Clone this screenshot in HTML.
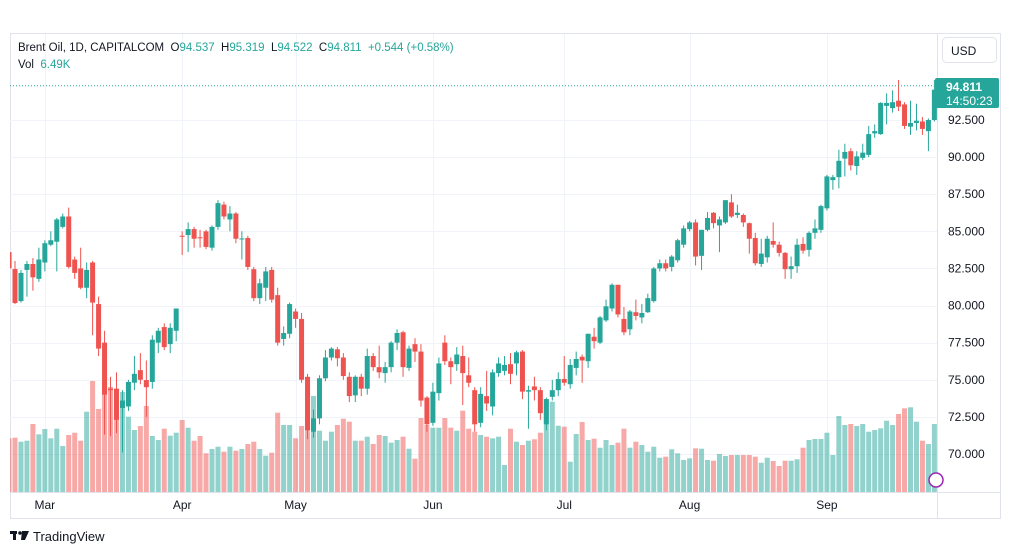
<!DOCTYPE html>
<html><head><meta charset="utf-8"><style>
body{margin:0;background:#fff;width:1012px;height:555px;overflow:hidden;font-family:"Liberation Sans",sans-serif}
svg{position:absolute;left:0;top:0}
</style></head><body>
<svg id="c" width="1012" height="555"></svg>
<script>
const opens=[83.6,82.46,80.3,82.4,82.8,81.8,82.9,84.1,84.3,85.3,86.0,83.1,82.5,81.2,82.9,80.1,77.5,74.4,74.4,73.1,73.2,74.8,75.65,74.98,74.85,77.5,78.55,77.4,78.3,84.7,84.75,85.15,84.6,85.0,83.9,85.3,86.8,85.8,86.2,84.5,84.55,82.45,80.5,81.2,82.4,80.7,77.75,78.1,79.6,79.1,75.2,71.5,72.4,75.1,76.5,77.05,76.5,75.2,73.95,75.2,74.4,76.6,75.85,75.45,75.85,77.5,78.2,75.8,77.4,76.9,73.8,72.1,74.1,77.5,76.25,76.05,76.6,75.3,74.3,72.1,73.9,73.2,75.45,75.6,76.05,76.1,76.9,74.2,74.55,74.3,72.0,73.85,74.3,75.05,74.7,75.8,76.55,76.25,77.9,77.5,79.0,79.8,81.4,79.1,78.4,79.55,79.2,79.55,80.3,82.5,82.85,82.6,83.05,84.1,85.15,85.6,83.35,85.1,86.25,85.4,85.6,86.95,86.1,86.1,85.55,84.55,82.8,83.25,84.35,84.1,83.55,82.45,82.65,84.15,83.75,84.9,85.1,86.55,88.45,88.65,89.9,90.4,89.4,89.95,90.15,91.6,91.55,93.45,93.3,93.8,93.55,92.05,92.3,92.4,91.75,92.5,94.537];
const closes=[82.5,80.17,82.2,82.8,81.9,83.1,84.2,84.4,85.8,86.0,82.6,82.2,81.2,82.4,80.2,77.1,74.0,74.3,72.3,73.6,74.85,75.4,75.0,74.5,77.7,78.3,77.2,78.5,79.8,84.65,85.15,84.5,84.55,83.95,85.3,86.9,86.0,86.2,84.5,84.52,82.6,80.5,81.5,82.3,80.4,77.5,78.15,80.1,79.1,75.0,71.6,72.4,75.1,76.5,77.1,76.45,75.25,73.9,75.2,74.4,76.6,75.85,75.5,75.85,77.5,78.15,75.85,77.1,76.9,73.6,72.0,74.2,76.1,76.25,75.85,76.7,75.45,74.8,72.0,74.05,73.4,75.5,76.1,76.0,75.4,76.85,74.2,74.3,74.3,72.75,73.7,74.3,75.05,74.8,76.0,76.4,76.3,78.1,77.6,79.2,79.95,81.4,79.4,78.2,79.6,79.3,79.5,80.5,82.5,82.85,82.5,83.3,84.4,85.2,85.6,83.3,85.1,85.9,85.55,85.8,87.1,86.0,86.25,85.6,84.5,82.85,83.5,84.5,84.1,83.55,82.45,82.65,84.1,83.7,84.9,85.2,86.7,88.7,88.65,89.75,90.35,89.45,90.05,90.3,91.55,91.75,93.65,93.65,93.7,93.4,92.1,92.3,92.45,91.9,92.5,94.54,94.811];
const highs=[83.7,83.0,82.4,83.0,83.2,83.9,84.4,85.0,85.9,86.2,86.6,83.3,83.9,82.9,83.0,80.6,78.3,75.2,75.5,74.3,75.0,76.6,76.8,76.3,78.0,78.5,78.8,78.8,79.8,85.0,85.6,85.3,85.1,85.1,85.4,87.1,87.0,86.7,86.3,85.0,84.7,82.6,81.8,82.6,82.6,81.2,78.6,80.2,79.8,79.5,75.4,73.0,75.3,77.0,77.2,77.2,76.8,75.5,75.3,75.4,77.1,76.8,77.3,76.2,77.6,78.4,78.3,77.3,77.8,77.4,73.9,74.8,76.5,78.0,76.5,77.2,77.3,76.5,74.5,74.5,75.6,75.7,76.5,76.6,76.8,76.95,77.0,74.6,75.2,74.5,73.8,75.0,75.5,76.6,76.4,76.9,76.7,78.1,78.5,79.3,80.4,81.5,81.4,79.9,79.7,80.4,80.1,80.8,82.6,83.1,83.1,83.4,84.5,85.4,85.7,85.8,85.1,86.3,86.3,86.0,87.1,87.5,86.8,86.2,85.6,84.9,84.5,84.7,85.6,84.3,83.6,83.3,84.5,84.6,85.0,85.8,86.8,88.8,88.8,90.5,90.9,90.6,90.4,90.9,92.1,92.2,93.7,94.3,94.5,95.2,93.7,93.8,93.6,92.7,92.6,95.2,95.319];
const lows=[82.3,80.1,80.2,80.6,81.0,81.6,82.3,84.0,82.3,85.2,82.5,81.8,81.1,80.5,78.0,76.6,71.3,71.2,71.4,70.1,72.9,74.3,74.7,72.5,74.4,76.8,77.0,76.8,77.6,83.4,83.6,83.9,83.9,83.8,83.7,85.1,85.8,85.0,84.2,83.1,82.4,80.3,80.1,80.3,80.2,77.3,77.3,77.8,78.5,74.8,71.0,71.1,72.0,74.9,76.3,75.9,75.0,73.5,73.5,73.9,74.0,75.6,75.1,74.8,75.5,77.0,75.2,75.6,76.2,73.2,71.5,71.9,73.6,76.0,74.7,75.6,73.3,74.5,71.5,71.8,72.9,72.6,75.2,75.3,74.7,75.3,73.7,71.7,73.6,72.3,71.6,73.6,73.9,74.6,74.4,75.3,74.8,75.8,77.1,77.4,78.9,79.6,79.2,78.0,78.0,79.0,78.8,79.5,80.2,82.3,82.3,82.3,82.9,83.9,85.0,82.7,82.4,85.0,85.2,83.6,85.5,85.9,85.9,85.3,83.5,82.7,82.6,82.9,83.9,83.3,81.8,81.8,82.2,83.5,83.3,84.5,84.9,86.4,87.8,87.9,88.7,89.1,88.8,89.8,90.0,91.3,91.5,92.2,93.0,93.1,91.9,91.5,91.8,91.5,90.4,92.4,94.522];
const volumes=[53.7,54.3,50.3,51.3,68,57.7,63,53.7,63.3,46,57,59.3,51.3,80.3,111,83,110.3,105,95,100,75.3,62,66,86,56,52,63.3,56.3,59.3,72,64.3,51.3,56,38.7,43,45.3,40.3,45.3,41.3,43,48,50.3,43,36.3,39.3,79.3,67,67,53.7,66,72.7,96,61.3,51.3,60.3,67,73.3,70.3,51.3,51.3,55.3,48,57,56,49.3,52,55.3,43.3,33.3,74,67,64.3,64.3,74,64.3,61.3,81.3,63.3,60.3,57,55.3,53.7,55.3,27,63.3,50.3,47,51.3,52.7,59.3,92.7,90.3,66.3,65.3,30.3,58,70,52,53.3,44.3,52,47,49.3,63.3,44.3,50.3,47,40.3,45.3,34.3,35.3,42.7,38.7,32,33.7,43.7,43.3,32,31.3,38,36,37,37,37,37,35.3,29.3,34.3,31,26,31.3,31.3,32.7,44.3,52,53,53,59.3,37,76,67,68,66,68,60.3,62,63.7,71.3,67,78,83.7,84.7,70.3,51.3,48,68,62];
const priceTicks=[92.5,90,87.5,85,82.5,80,77.5,75,72.5,70];
const monthLabels=["Mar","Apr","May","Jun","Jul","Aug","Sep"];
const monthIdx=[6,29,48,71,93,114,137];

const svg=document.getElementById('c');const NS='http://www.w3.org/2000/svg';
function mk(t,a,p){const e=document.createElementNS(NS,t);for(const k in a)e.setAttribute(k,a[k]);(p||svg).appendChild(e);return e;}
const L=10,R=937,T=34,B=492;
const yP=v=>120+(92.5-v)*14.844;
const xI=i=>9.03+5.97*i;
const vY=v=>B-v;
const G='#26a69a',Rd='#ef5350';
// frame
let f=mk('rect',{x:10.5,y:33.5,width:990,height:485,fill:'#fff',stroke:'#e0e3eb'});

const grid=mk('g',{stroke:'#f0f3fa','stroke-width':1});

priceTicks.forEach(v=>mk('line',{x1:L,x2:R,y1:Math.round(yP(v))+.5,y2:Math.round(yP(v))+.5},grid));
monthIdx.forEach(i=>mk('line',{x1:Math.round(xI(i))+.5,x2:Math.round(xI(i))+.5,y1:T,y2:B},grid));
mk('line',{x1:937.5,x2:937.5,y1:33,y2:519,stroke:'#e0e3eb'});
mk('line',{x1:10,x2:1001,y1:492.5,y2:492.5,stroke:'#e0e3eb'});
const clip=mk('clipPath',{id:'pc'});mk('rect',{x:L,y:T,width:R-L,height:B-T},clip);
const vg=mk('g',{'clip-path':'url(#pc)'});

const cg=mk('g',{'clip-path':'url(#pc)'});

for(let i=0;i<opens.length;i++){
  const up=closes[i]>=opens[i];const x=xI(i);
  const vb=mk('rect',{x:x-2.5,y:vY(volumes[i]),width:5,height:volumes[i],fill:up?'rgba(38,166,154,0.5)':'rgba(239,83,80,0.5)'},vg);
  
  const c=up?G:Rd;
  const w=mk('line',{x1:x,x2:x,y1:yP(highs[i]),y2:yP(lows[i]),stroke:c,'stroke-width':1},cg);
  
  const t=yP(Math.max(opens[i],closes[i])),b=yP(Math.min(opens[i],closes[i]));
  const r=mk('rect',{x:x-2.5,y:t,width:5,height:Math.max(1,b-t),fill:c},cg);
  
}
const last=closes[closes.length-1];
mk('line',{x1:L,x2:R,y1:yP(last),y2:yP(last),stroke:G,'stroke-width':1,'stroke-dasharray':'1 2'});
// axes labels
priceTicks.forEach(v=>{const t=mk('text',{x:948,y:yP(v)+4,'font-size':12,fill:'#131722'});t.textContent=v.toFixed(3);
});
monthLabels.forEach((m,k)=>{const t=mk('text',{x:xI(monthIdx[k]),y:509,'font-size':12,fill:'#131722','text-anchor':'middle'});t.textContent=m;
});
// last price tag
const tag=mk('rect',{x:935,y:78,width:64,height:30,rx:2,fill:G});

let t1=mk('text',{x:946,y:91,'font-size':12,fill:'#fff','font-weight':'bold'});t1.textContent=last.toFixed(3);
let t2=mk('text',{x:946,y:105,'font-size':12,fill:'#fff'});t2.textContent='14:50:23';
// USD button
const ub=mk('rect',{x:942.5,y:37.5,width:54,height:25,rx:4,fill:'#fff',stroke:'#e0e3eb'});

let ut=mk('text',{x:951,y:55,'font-size':12,fill:'#131722'});ut.textContent='USD';
// purple marker
mk('circle',{cx:936,cy:480,r:7,fill:'#fff',stroke:'#9c27b0','stroke-width':1.5});
// header
const h=mk('text',{x:18,y:51,'font-size':11.5,fill:'#131722'});

h.innerHTML='Brent Oil, 1D, CAPITALCOM  <tspan fill="#131722">O</tspan><tspan fill="#26a69a">94.537</tspan>  <tspan>H</tspan><tspan fill="#26a69a">95.319</tspan>  <tspan>L</tspan><tspan fill="#26a69a">94.522</tspan>  <tspan>C</tspan><tspan fill="#26a69a">94.811</tspan>  <tspan fill="#26a69a">+0.544 (+0.58%)</tspan>';
h.setAttribute('xml:space','preserve');h.style.whiteSpace='pre';
const v=mk('text',{x:18,y:68,'font-size':11.5,fill:'#131722'});v.innerHTML='Vol  <tspan fill="#26a69a">6.49K</tspan>';v.style.whiteSpace='pre';

// logo
const lg=mk('g',{});
mk('rect',{x:10,y:531,width:7,height:3,fill:'#131722'},lg);mk('rect',{x:13,y:531,width:3,height:9,fill:'#131722'},lg);
mk('circle',{cx:20,cy:533,r:1.8,fill:'#131722'},lg);mk('polygon',{points:'22,531 29,531 25,540 21,540',fill:'#131722'},lg);
const lt=mk('text',{x:33,y:541,'font-size':13,fill:'#131722'},lg);lt.textContent='TradingView';
</script>
</body></html>
